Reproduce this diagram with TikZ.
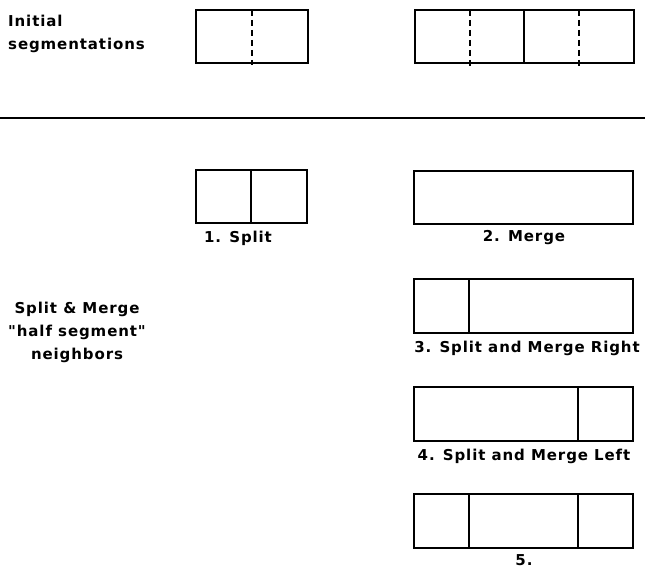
\documentclass[tikz,border=0pt]{standalone}
\usepackage{fontspec}
\setmainfont{DejaVu Sans}[LetterSpace=6,Ligatures=TeXOff]
\begin{document}
\begin{tikzpicture}[x=1pt,y=-1pt,
  seg/.style={draw=black,line width=2pt,fill=none},
  divider/.style={draw=black,line width=1.6pt},
  dashdiv/.style={draw=black,line width=1.6pt,dash pattern=on 6pt off 4pt},
  lbl/.style={font=\bfseries\fontsize{15}{17}\selectfont,inner sep=0pt,anchor=center},
  side/.style={font=\bfseries\fontsize{15}{23}\selectfont,inner sep=0pt,align=center}]
\useasboundingbox (0,0) rectangle (645,569);
% initial segmentations
\node[side,align=left,anchor=west] (init) at (8,34) {Initial\\segmentations};
\draw[seg] (196,10) rectangle (308,63);
\coordinate (a1) at (252,10); \coordinate (a2) at (252,65);
\draw[dashdiv] (a1) -- (a2);
\draw[seg] (415,10) rectangle (634,63);
\coordinate (b1) at (524,10); \coordinate (b2) at (524,63);
\draw[divider] (b1) -- (b2);
\coordinate (c1) at (470,10); \coordinate (c2) at (470,67);
\draw[dashdiv] (c1) -- (c2);
\coordinate (d1) at (579,10); \coordinate (d2) at (579,67);
\draw[dashdiv] (d1) -- (d2);
% rule
\coordinate (r1) at (0,118); \coordinate (r2) at (645,118);
\draw[line width=2.2pt] (r1) -- (r2);
% side label
\node[side] (sm) at (77,332) {Split \& Merge\\"half segment"\\neighbors};
% 1. split
\draw[seg] (196,170) rectangle (307,223);
\coordinate (s1) at (251,170); \coordinate (s2) at (251,223);
\draw[divider] (s1) -- (s2);
\node[lbl] (l1) at (238,238) {1. Split};
% 2. merge
\draw[seg] (414,171) rectangle (633,224);
\node[lbl] (l2) at (524,238) {2. Merge};
% 3.
\draw[seg] (414,279) rectangle (633,333);
\coordinate (t1) at (469,279); \coordinate (t2) at (469,333);
\draw[divider] (t1) -- (t2);
\node[lbl] (l3) at (527,348) {3. Split and Merge Right};
% 4.
\draw[seg] (414,387) rectangle (633,441);
\coordinate (u1) at (578,387); \coordinate (u2) at (578,441);
\draw[divider] (u1) -- (u2);
\node[lbl] (l4) at (524,456) {4. Split and Merge Left};
% 5.
\draw[seg] (414,494) rectangle (633,548);
\coordinate (v1) at (469,494); \coordinate (v2) at (469,548);
\draw[divider] (v1) -- (v2);
\coordinate (w1) at (578,494); \coordinate (w2) at (578,548);
\draw[divider] (w1) -- (w2);
\node[lbl] (l5) at (524,560) {5.};
\end{tikzpicture}
\end{document}
